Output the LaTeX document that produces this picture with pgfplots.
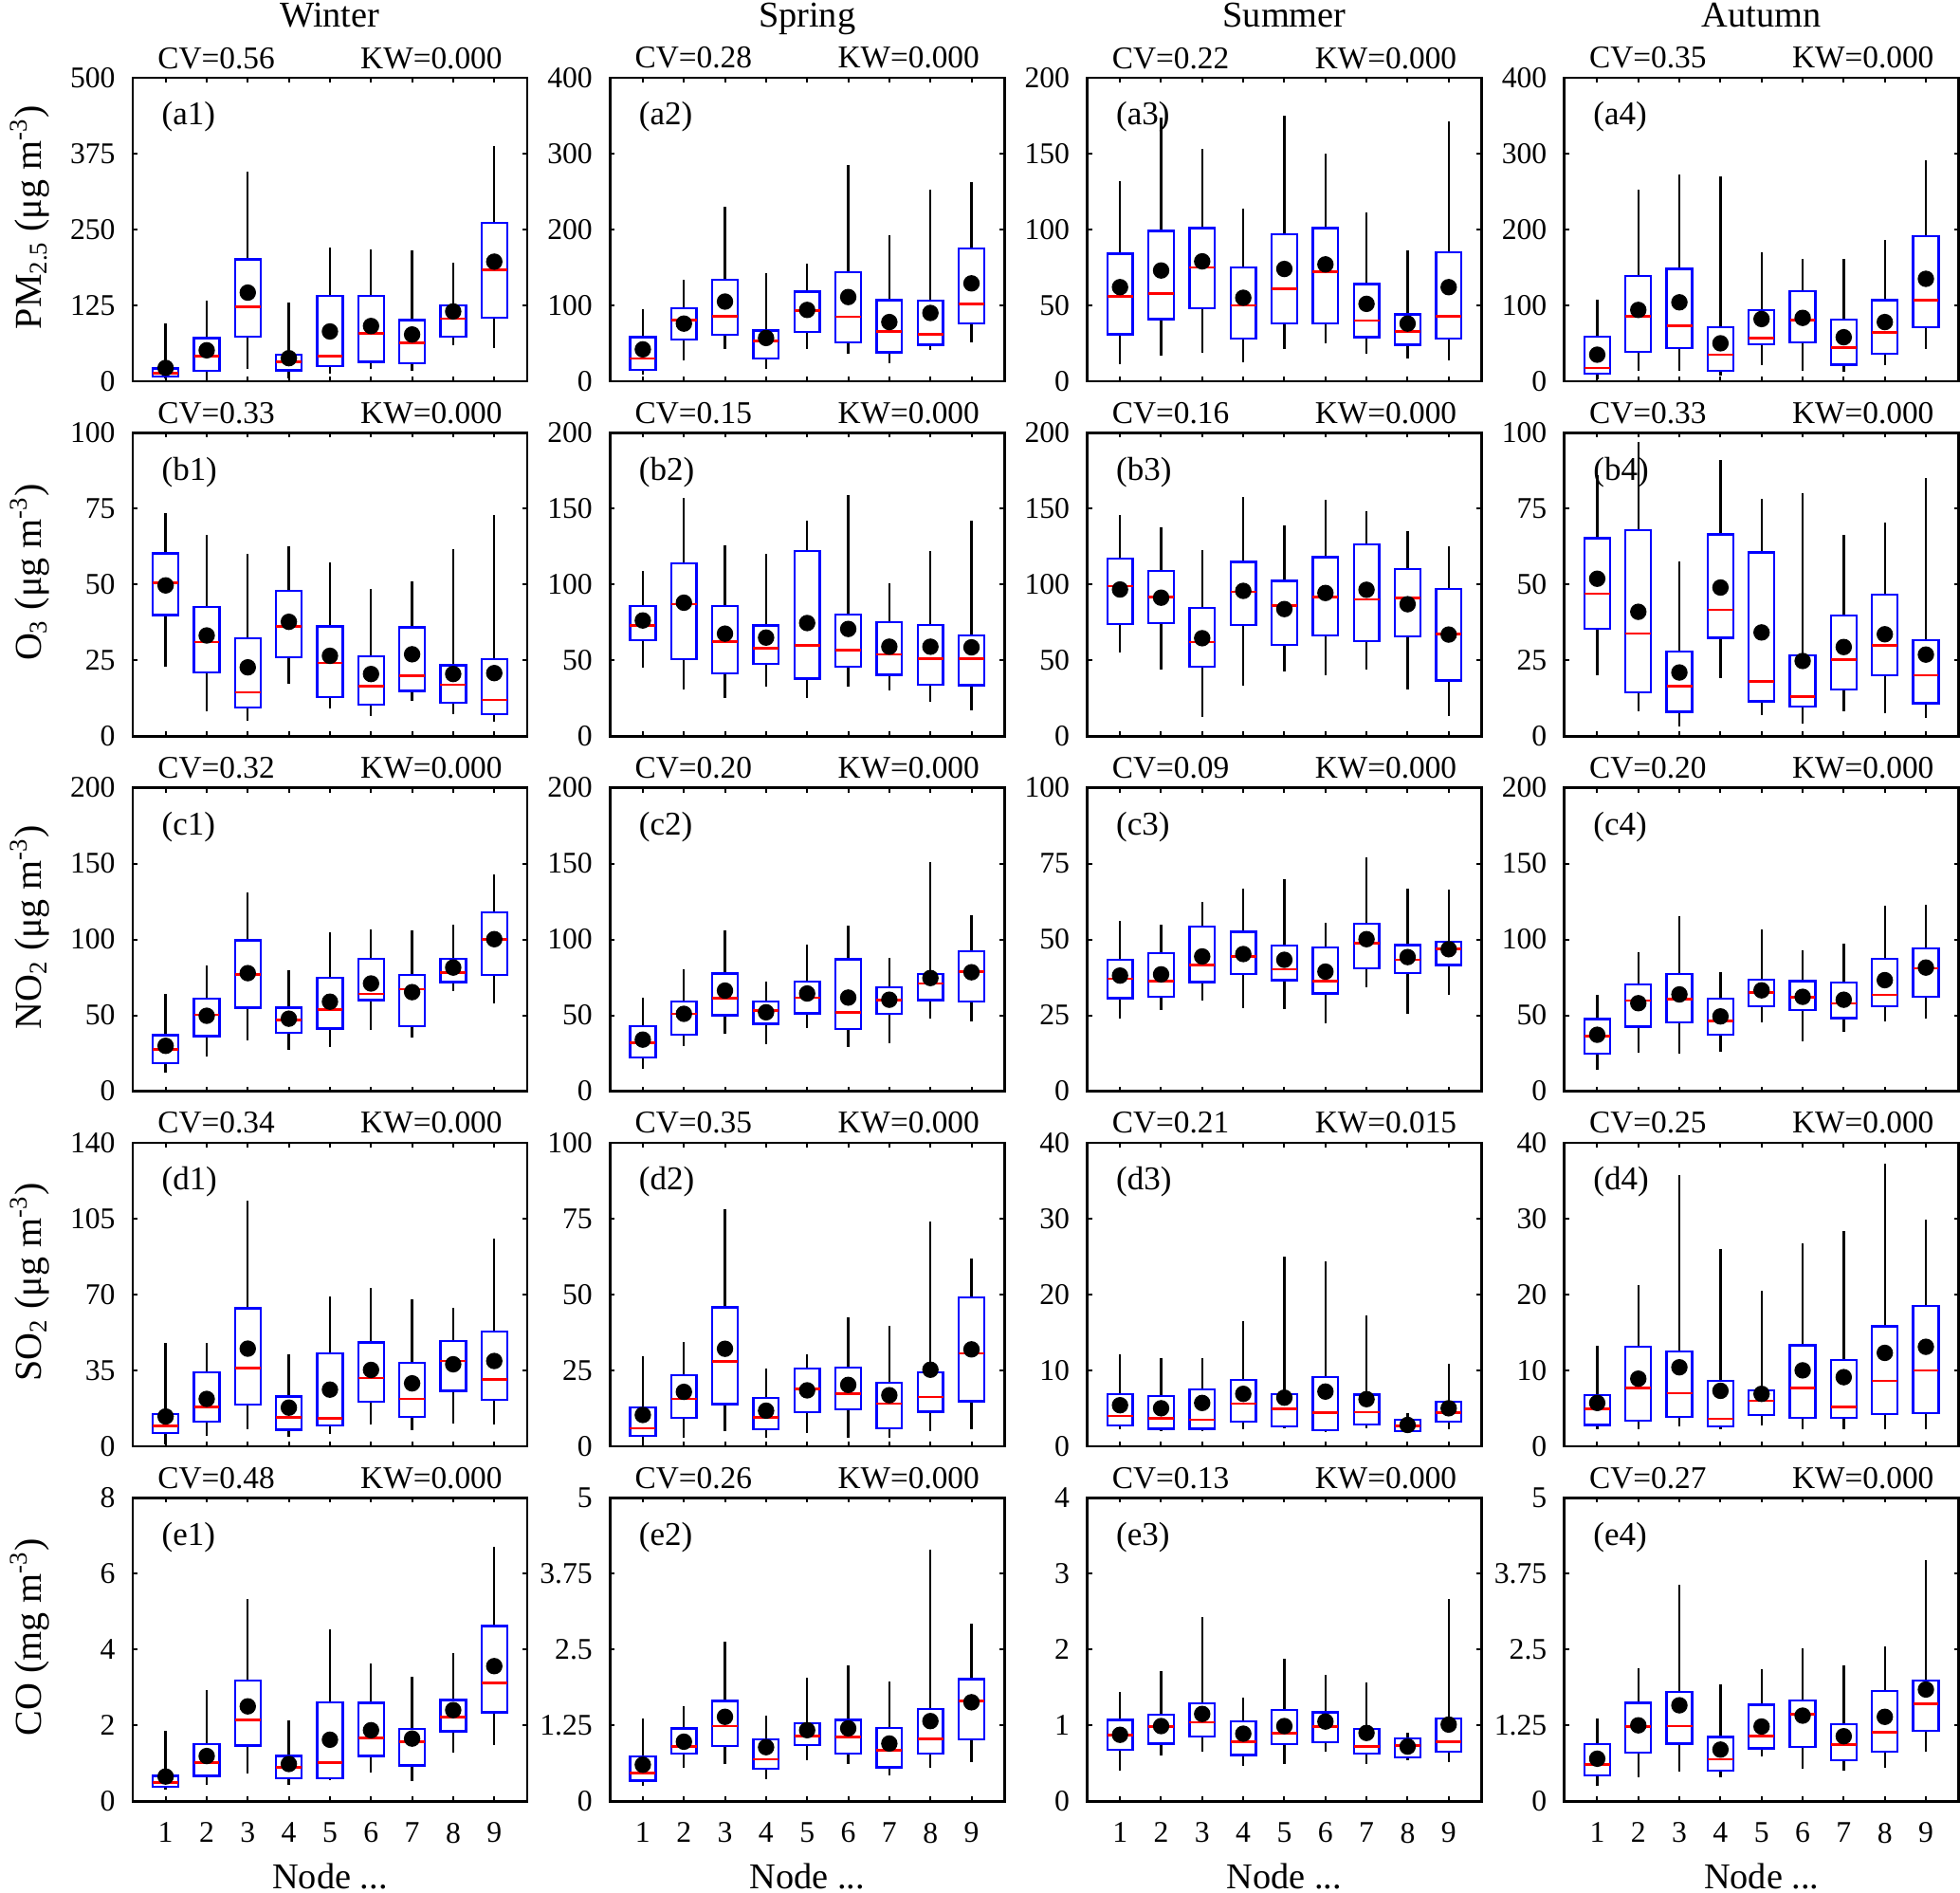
\documentclass[border=0pt]{standalone}
\usepackage{fontspec}
\setmainfont{Liberation Serif}
\usepackage{pgfplots}
\pgfplotsset{compat=1.18}
\usepgfplotslibrary{groupplots,statistics}

% one box: position, lower whisker, q1, median, q3, upper whisker
\newcommand{\bx}[6]{\addplot[boxplot prepared={draw position=#1,lower whisker=#2,lower quartile=#3,median=#4,upper quartile=#5,upper whisker=#6}] coordinates {};}
\newcommand{\plab}[1]{\node[anchor=base west,inner sep=0pt,font=\fontsize{10.5}{10.5}\selectfont,yshift=-15pt] at (axis description cs:0.072,1) {#1};}
\newcommand{\ctit}[1]{\node[anchor=base,inner sep=0pt,font=\fontsize{11.5}{11.5}\selectfont,yshift=16.2pt] at (axis description cs:0.5,1) {#1};}
\newcommand{\cvkw}[2]{\makebox[109pt]{CV=#1\hfill KW=#2}}
\pgfplotsset{meandot/.style={only marks,mark=*,mark size=2.4pt,black,mark options={fill=black}}}

\begin{document}
\begin{tikzpicture}
\begin{groupplot}[
  group style={group size=4 by 5, horizontal sep=26.2pt, vertical sep=16.3pt, xticklabels at=edge bottom},
  scale only axis, width=124.8pt, height=96pt,
  xmin=0.2, xmax=9.8, xtick={1,...,9}, ymin=0,
  clip=false,
  axis line style={line width=0.8pt},
  tick align=inside, major tick length=1.5pt,
  tick style={black, line width=0.6pt},
  tick label style={font=\fontsize{9.5}{9.5}\selectfont},
  /pgf/number format/assume math mode=true,
  yticklabel style={xshift=-2pt},
  xticklabel style={yshift=-3.3pt},
  every axis title/.style={at={(axis description cs:0.5,1)}, anchor=base, yshift=3pt, inner sep=0pt, font=\fontsize{10}{10}\selectfont},
  every axis y label/.style={at={(axis description cs:-0.233,0.54)}, rotate=90, anchor=base, inner sep=0pt, font=\fontsize{12}{12}\selectfont},
  every axis x label/.style={at={(axis description cs:0.5,0)}, anchor=base, yshift=-27.6pt, inner sep=0pt, font=\fontsize{11.5}{11.5}\selectfont},
  boxplot/draw direction=y, boxplot/box extend=0.62, boxplot/whisker extend=0,
  boxplot/every box/.style={draw=blue, line width=0.7pt},
  boxplot/every whisker/.style={draw=black, line width=0.7pt},
  boxplot/every median/.style={draw=red, line width=0.8pt},
]
% ---------------- row a: PM2.5
\nextgroupplot[ymax=500, ytick={0,125,250,375,500}, title={\cvkw{0.56}{0.000}},
  ylabel={PM\textsubscript{2.5} (μg m\textsuperscript{-3})}]
\bx{1}{4}{8}{13}{21}{96}
\bx{2}{2}{17}{41}{71}{133}
\bx{3}{20}{73}{123}{201}{346}
\bx{4}{4}{18}{32}{44}{130}
\bx{5}{12}{25}{41}{141}{221}
\bx{6}{21}{32}{79}{141}{217}
\bx{7}{17}{30}{63}{101}{215}
\bx{8}{59}{73}{103}{125}{195}
\bx{9}{54}{105}{184}{261}{388}
\addplot[meandot] coordinates {(1,22) (2,51) (3,146) (4,38) (5,82) (6,91) (7,77) (8,115) (9,197)};
\plab{(a1)} \ctit{Winter}
\coordinate (TL) at (axis description cs:0,1);

\nextgroupplot[ymax=400, ytick={0,100,200,300,400}, title={\cvkw{0.28}{0.000}}]
\bx{1}{9}{15}{30}{58}{95}
\bx{2}{28}{55}{81}{96}{134}
\bx{3}{42}{61}{86}{134}{230}
\bx{4}{16}{30}{53}{67}{143}
\bx{5}{43}{65}{93}{118}{155}
\bx{6}{36}{51}{85}{144}{285}
\bx{7}{24}{38}{66}{107}{193}
\bx{8}{41}{48}{62}{106}{252}
\bx{9}{51}{76}{102}{175}{262}
\addplot[meandot] coordinates {(1,42) (2,76) (3,105) (4,57) (5,94) (6,111) (7,78) (8,90) (9,129)};
\plab{(a2)} \ctit{Spring}

\nextgroupplot[ymax=200, ytick={0,50,100,150,200}, title={\cvkw{0.22}{0.000}}]
\bx{1}{11}{31}{56}{84}{132}
\bx{2}{17}{41}{58}{99}{174}
\bx{3}{19}{48}{75}{101}{153}
\bx{4}{12.5}{28}{50}{75}{114}
\bx{5}{21}{38}{61}{97}{175}
\bx{6}{25}{38}{72}{101}{150}
\bx{7}{18}{29}{40}{64}{111}
\bx{8}{15}{24}{33}{44}{86}
\bx{9}{14}{28}{43}{85}{171}
\addplot[meandot] coordinates {(1,62) (2,73) (3,79) (4,55) (5,74) (6,77) (7,51) (8,38) (9,62)};
\plab{(a3)} \ctit{Summer}

\nextgroupplot[ymax=400, ytick={0,100,200,300,400}, title={\cvkw{0.35}{0.000}}]
\bx{1}{3}{10}{17.5}{59}{107}
\bx{2}{14}{39}{86}{139}{252}
\bx{3}{14}{44}{73}{148}{273}
\bx{4}{7.5}{14}{35}{71}{270}
\bx{5}{21}{49}{57}{94}{170}
\bx{6}{14}{51}{81}{119}{161}
\bx{7}{12.5}{22}{44}{81}{161}
\bx{8}{21}{36}{64}{107}{186}
\bx{9}{42}{71}{107}{191}{291}
\addplot[meandot] coordinates {(1,35) (2,94) (3,104) (4,50) (5,82) (6,83.5) (7,58) (8,78) (9,135)};
\plab{(a4)} \ctit{Autumn}

% ---------------- row b: O3
\nextgroupplot[ymax=100, ytick={0,25,50,75,100}, title={\cvkw{0.33}{0.000}},
  ylabel={O\textsubscript{3} (μg m\textsuperscript{-3})}]
\bx{1}{23}{39.9}{50.5}{60.3}{73.5}
\bx{2}{8.3}{21}{31}{42.6}{66.3}
\bx{3}{5}{9.4}{14.5}{32.2}{60}
\bx{4}{17.2}{26}{36.2}{47.8}{62.7}
\bx{5}{9.1}{13}{24.1}{36.2}{57.4}
\bx{6}{6.8}{10.3}{16.5}{26.3}{48.4}
\bx{7}{11.6}{14.9}{20}{35.9}{51}
\bx{8}{7.3}{11.1}{17}{23.4}{61.5}
\bx{9}{4.7}{7.3}{12}{25.4}{73}
\addplot[meandot] coordinates {(1,49.7) (2,33.2) (3,22.7) (4,37.7) (5,26.5) (6,20.5) (7,27) (8,20.5) (9,20.8)};
\plab{(b1)}

\nextgroupplot[ymax=200, ytick={0,50,100,150,200}, title={\cvkw{0.15}{0.000}}]
\bx{1}{45}{63.4}{73}{86}{109}
\bx{2}{31}{50.7}{87}{114}{157}
\bx{3}{25.4}{41.6}{62.4}{86}{126}
\bx{4}{32.8}{47.8}{58.2}{73}{120}
\bx{5}{25}{38}{60}{122}{142}
\bx{6}{32.6}{46}{56.8}{80}{159}
\bx{7}{30}{40.5}{54}{75}{101}
\bx{8}{22.5}{34}{51}{73.4}{122}
\bx{9}{17}{33.7}{51}{66.5}{142}
\addplot[meandot] coordinates {(1,76.3) (2,88) (3,67.6) (4,65) (5,74.6) (6,70.7) (7,59) (8,59) (9,58.6)};
\plab{(b2)}

\nextgroupplot[ymax=200, ytick={0,50,100,150,200}, title={\cvkw{0.16}{0.000}}]
\bx{1}{55}{74}{99}{117}{146}
\bx{2}{43.7}{74.6}{91.7}{109}{137.5}
\bx{3}{12.5}{45.6}{62}{84.6}{122.5}
\bx{4}{33}{73.5}{95.2}{114.8}{157.7}
\bx{5}{42.5}{60}{86}{102.3}{139}
\bx{6}{40.2}{66.3}{91.7}{118}{156}
\bx{7}{44}{62.7}{90.2}{126.5}{148.5}
\bx{8}{31}{66}{91.2}{110}{135.4}
\bx{9}{13.5}{36.7}{67.3}{97}{125}
\addplot[meandot] coordinates {(1,96.7) (2,91.3) (3,64.6) (4,95.8) (5,83.8) (6,94.4) (7,96.5) (8,87) (9,67)};
\plab{(b3)}

\nextgroupplot[ymax=100, ytick={0,25,50,75,100}, title={\cvkw{0.33}{0.000}}]
\bx{1}{20}{35.3}{47}{65.3}{86}
\bx{2}{8.3}{14.5}{33.8}{68}{97}
\bx{3}{3.1}{8.1}{16.4}{28}{57.6}
\bx{4}{19.3}{32.4}{41.7}{66.5}{91}
\bx{5}{7}{11.5}{18}{60.6}{78.3}
\bx{6}{4.2}{9.7}{13.1}{26.6}{80.2}
\bx{7}{8.1}{15.4}{25.2}{39.8}{66.5}
\bx{8}{7.5}{20.1}{30}{46.6}{70.5}
\bx{9}{6}{10.9}{20.1}{31.7}{85}
\addplot[meandot] coordinates {(1,51.9) (2,41) (3,21) (4,49) (5,34.2) (6,24.8) (7,29.4) (8,33.6) (9,26.9)};
\plab{(b4)}

% ---------------- row c: NO2
\nextgroupplot[ymax=200, ytick={0,50,100,150,200}, title={\cvkw{0.32}{0.000}},
  ylabel={NO\textsubscript{2} (μg m\textsuperscript{-3})}]
\bx{1}{12.3}{18.5}{27.6}{37}{64.2}
\bx{2}{23}{36.2}{50.3}{61}{83}
\bx{3}{33.3}{55}{77}{99.4}{130.8}
\bx{4}{27}{38.3}{46.8}{55}{80}
\bx{5}{29}{41.2}{53.6}{74.8}{105}
\bx{6}{40.5}{60}{64.2}{87.3}{106.4}
\bx{7}{35.6}{43}{67.2}{76.7}{105.8}
\bx{8}{66}{72}{78}{87.3}{109.6}
\bx{9}{58}{76.7}{100}{117.9}{142.8}
\addplot[meandot] coordinates {(1,29.9) (2,49.7) (3,77.8) (4,47.8) (5,59) (6,71) (7,65.3) (8,81.5) (9,100.2)};
\plab{(c1)}

\nextgroupplot[ymax=200, ytick={0,50,100,150,200}, title={\cvkw{0.20}{0.000}}]
\bx{1}{15}{22.2}{32}{43}{61.7}
\bx{2}{30}{37.4}{51}{59.3}{80.5}
\bx{3}{37.8}{50.1}{61.1}{77.5}{105.8}
\bx{4}{31}{44.5}{53}{59.3}{72.1}
\bx{5}{41.8}{51.4}{61.7}{72.3}{96.5}
\bx{6}{28.9}{41.2}{52}{86.9}{109}
\bx{7}{31.6}{51.1}{60}{68.4}{87.7}
\bx{8}{47.6}{60}{71.1}{77.3}{151}
\bx{9}{45.7}{59}{78.8}{92.3}{115.8}
\addplot[meandot] coordinates {(1,34) (2,51) (3,66.3) (4,52) (5,64.4) (6,61.7) (7,60.3) (8,74.6) (9,78.4)};
\plab{(c2)}

\nextgroupplot[ymax=100, ytick={0,25,50,75,100}, title={\cvkw{0.09}{0.000}}]
\bx{1}{23.8}{30.6}{37.1}{43.3}{56.1}
\bx{2}{26.9}{31.1}{36.2}{45.5}{55}
\bx{3}{29.8}{36}{41.5}{54.3}{62.3}
\bx{4}{27.4}{38.7}{44.5}{52.5}{66.9}
\bx{5}{27.1}{36.6}{40.2}{47.9}{69.8}
\bx{6}{22.3}{32.2}{36.2}{47.4}{55.6}
\bx{7}{34.2}{40.6}{48.8}{55.2}{77.1}
\bx{8}{25.4}{38.9}{43.3}{48.2}{66.9}
\bx{9}{31.6}{41.6}{46.8}{49.2}{66.5}
\addplot[meandot] coordinates {(1,38.1) (2,38.5) (3,44.4) (4,45.2) (5,43.3) (6,39.4) (7,50.1) (8,44.2) (9,46.8)};
\plab{(c3)}

\nextgroupplot[ymax=200, ytick={0,50,100,150,200}, title={\cvkw{0.20}{0.000}}]
\bx{1}{13.9}{24.7}{36.4}{47.6}{63.8}
\bx{2}{25.4}{42.6}{59.7}{70.3}{91.9}
\bx{3}{24.7}{45.3}{60.7}{77.1}{115.4}
\bx{4}{26}{37.4}{46.2}{61.1}{78.8}
\bx{5}{45.5}{56.1}{64.9}{73.4}{106.9}
\bx{6}{32.6}{53.6}{62}{72.6}{92.6}
\bx{7}{38.9}{48.2}{57.8}{71.5}{97.5}
\bx{8}{46.2}{56.1}{63.4}{87.3}{122}
\bx{9}{47.6}{62.4}{80.9}{94}{123}
\addplot[meandot] coordinates {(1,37.2) (2,58) (3,63.8) (4,49.3) (5,66.5) (6,62.2) (7,60.3) (8,73.2) (9,81.5)};
\plab{(c4)}

% ---------------- row d: SO2
\nextgroupplot[ymax=140, ytick={0,35,70,105,140}, title={\cvkw{0.34}{0.000}},
  ylabel={SO\textsubscript{2} (μg m\textsuperscript{-3})}]
\bx{1}{1}{6.1}{9.5}{14.7}{47.6}
\bx{2}{4.9}{11.2}{18.1}{34}{47.6}
\bx{3}{7.9}{19.1}{36}{63.6}{113.1}
\bx{4}{4.4}{7.6}{13.4}{22.9}{42.4}
\bx{5}{5.7}{9.5}{12.9}{42.8}{68.9}
\bx{6}{10}{20.5}{31.4}{47.9}{73.1}
\bx{7}{7.6}{13.4}{21.8}{38.4}{67.8}
\bx{8}{10.5}{25.5}{39.3}{48.6}{63.8}
\bx{9}{9.8}{21.3}{30.7}{53}{95.6}
\addplot[meandot] coordinates {(1,13.7) (2,21.8) (3,45) (4,17.8) (5,26.1) (6,35.2) (7,29) (8,37.8) (9,39.3)};
\plab{(d1)}

\nextgroupplot[ymax=100, ytick={0,25,50,75,100}, title={\cvkw{0.35}{0.000}}]
\bx{1}{0.7}{3.4}{5.9}{12.7}{29.5}
\bx{2}{2.8}{9.3}{15.6}{23.3}{34.3}
\bx{3}{4.9}{13.9}{27.9}{45.7}{78.1}
\bx{4}{2.8}{5.6}{9.6}{15.9}{25.7}
\bx{5}{4.2}{11.3}{18.9}{25.6}{30.4}
\bx{6}{2.8}{12.1}{17.4}{25.9}{42.6}
\bx{7}{2.8}{5.9}{14}{21}{39.5}
\bx{8}{4.9}{11.4}{16.2}{24.4}{74.1}
\bx{9}{5.7}{14.8}{30.6}{49.1}{61.7}
\addplot[meandot] coordinates {(1,10.3) (2,17.9) (3,32.1) (4,11.7) (5,18.4) (6,20.2) (7,16.8) (8,25.2) (9,31.9)};
\plab{(d2)}

\nextgroupplot[ymax=40, ytick={0,10,20,30,40}, title={\cvkw{0.21}{0.015}}]
\bx{1}{2.2}{2.7}{4}{6.9}{12.1}
\bx{2}{2}{2.3}{3.7}{6.6}{11.6}
\bx{3}{2}{2.3}{3.5}{7.5}{11.6}
\bx{4}{2.2}{3.2}{5.6}{8.7}{16.5}
\bx{5}{2.3}{2.6}{4.9}{6.9}{25}
\bx{6}{1.9}{2.1}{4.4}{9.1}{24.4}
\bx{7}{2.4}{2.9}{4.5}{6.8}{17.2}
\bx{8}{1.7}{2}{2.7}{3.5}{4.4}
\bx{9}{2.2}{3.2}{4.4}{5.9}{10.9}
\addplot[meandot] coordinates {(1,5.4) (2,5) (3,5.7) (4,6.9) (5,6.4) (6,7.2) (7,6.2) (8,2.8) (9,5)};
\plab{(d3)}

\nextgroupplot[ymax=40, ytick={0,10,20,30,40}, title={\cvkw{0.25}{0.000}}]
\bx{1}{2.2}{2.8}{4.9}{6.7}{13.3}
\bx{2}{2.2}{3.4}{7.7}{13.1}{21.3}
\bx{3}{2.6}{3.9}{7}{12.5}{35.8}
\bx{4}{2.2}{2.6}{3.6}{8.6}{26}
\bx{5}{2.7}{4.1}{6}{7.4}{20.5}
\bx{6}{2.2}{3.7}{7.7}{13.3}{26.7}
\bx{7}{2.2}{3.7}{5.2}{11.4}{28.4}
\bx{8}{2.2}{4.2}{8.6}{15.8}{37.2}
\bx{9}{2.2}{4.4}{10}{18.5}{29.9}
\addplot[meandot] coordinates {(1,5.7) (2,8.9) (3,10.4) (4,7.3) (5,6.9) (6,10) (7,9.1) (8,12.3) (9,13.1)};
\plab{(d4)}

% ---------------- row e: CO
\nextgroupplot[ymax=8, ytick={0,2,4,6,8}, title={\cvkw{0.48}{0.000}},
  ylabel={CO (mg m\textsuperscript{-3})}, xlabel={Node ...}]
\bx{1}{0.3}{0.38}{0.5}{0.67}{1.86}
\bx{2}{0.42}{0.67}{1.01}{1.51}{2.94}
\bx{3}{0.73}{1.47}{2.14}{3.18}{5.33}
\bx{4}{0.44}{0.61}{0.89}{1.19}{2.12}
\bx{5}{0.55}{0.61}{1.02}{2.61}{4.52}
\bx{6}{0.75}{1.19}{1.67}{2.59}{3.63}
\bx{7}{0.52}{0.94}{1.57}{1.9}{3.27}
\bx{8}{1.27}{1.84}{2.21}{2.67}{3.9}
\bx{9}{1.48}{2.34}{3.11}{4.62}{6.7}
\addplot[meandot] coordinates {(1,0.65) (2,1.19) (3,2.5) (4,0.98) (5,1.62) (6,1.87) (7,1.65) (8,2.4) (9,3.56)};
\plab{(e1)}

\nextgroupplot[ymax=5, ytick={0,1.25,2.5,3.75,5}, title={\cvkw{0.26}{0.000}}, xlabel={Node ...}]
\bx{1}{0.26}{0.34}{0.46}{0.74}{1.37}
\bx{2}{0.55}{0.78}{0.9}{1.2}{1.56}
\bx{3}{0.61}{0.91}{1.24}{1.65}{2.63}
\bx{4}{0.36}{0.53}{0.69}{1.02}{1.41}
\bx{5}{0.67}{0.92}{1.07}{1.28}{2.03}
\bx{6}{0.62}{0.78}{1.06}{1.34}{2.24}
\bx{7}{0.43}{0.56}{0.84}{1.21}{1.97}
\bx{8}{0.55}{0.78}{1.03}{1.52}{4.15}
\bx{9}{0.65}{1.02}{1.65}{2.01}{2.92}
\addplot[meandot] coordinates {(1,0.6) (2,0.98) (3,1.39) (4,0.89) (5,1.17) (6,1.2) (7,0.95) (8,1.32) (9,1.63)};
\plab{(e2)}

\nextgroupplot[ymax=4, ytick={0,1,2,3,4}, title={\cvkw{0.13}{0.000}}, xlabel={Node ...}]
\bx{1}{0.4}{0.675}{0.875}{1.07}{1.44}
\bx{2}{0.6}{0.76}{0.98}{1.14}{1.72}
\bx{3}{0.65}{0.85}{1.04}{1.29}{2.43}
\bx{4}{0.46}{0.61}{0.78}{1.05}{1.36}
\bx{5}{0.49}{0.75}{0.9}{1.2}{1.88}
\bx{6}{0.65}{0.78}{0.98}{1.17}{1.67}
\bx{7}{0.49}{0.63}{0.72}{0.95}{1.57}
\bx{8}{0.54}{0.58}{0.73}{0.83}{0.9}
\bx{9}{0.51}{0.65}{0.78}{1.09}{2.66}
\addplot[meandot] coordinates {(1,0.875) (2,0.99) (3,1.15) (4,0.89) (5,0.99) (6,1.05) (7,0.9) (8,0.72) (9,1.01)};
\plab{(e3)}

\nextgroupplot[ymax=5, ytick={0,1.25,2.5,3.75,5}, title={\cvkw{0.27}{0.000}}, xlabel={Node ...}]
\bx{1}{0.26}{0.43}{0.6}{0.94}{1.37}
\bx{2}{0.4}{0.8}{1.23}{1.62}{2.19}
\bx{3}{0.48}{0.95}{1.24}{1.8}{3.57}
\bx{4}{0.4}{0.5}{0.69}{1.06}{1.93}
\bx{5}{0.74}{0.87}{1.07}{1.59}{2.18}
\bx{6}{0.54}{0.89}{1.43}{1.66}{2.52}
\bx{7}{0.51}{0.67}{0.93}{1.27}{2.23}
\bx{8}{0.55}{0.82}{1.14}{1.82}{2.55}
\bx{9}{0.82}{1.16}{1.6}{1.99}{3.97}
\addplot[meandot] coordinates {(1,0.7) (2,1.25) (3,1.58) (4,0.85) (5,1.23) (6,1.41) (7,1.07) (8,1.39) (9,1.84)};
\plab{(e4)}
\coordinate (BR) at (axis description cs:1,0);
\end{groupplot}
\pgfresetboundingbox
\path ([shift={(-42pt,24.6pt)}]TL) rectangle ([shift={(0.4pt,-28.8pt)}]BR);
\end{tikzpicture}
\end{document}
